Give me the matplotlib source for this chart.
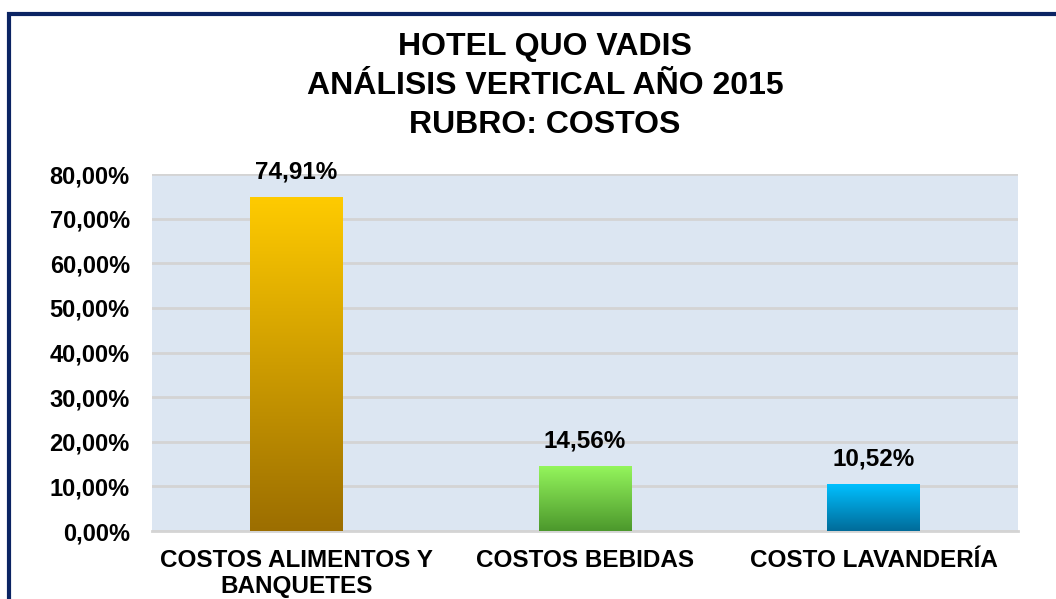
import matplotlib
matplotlib.use("Agg")
import matplotlib.pyplot as plt
import numpy as np
from matplotlib.colors import LinearSegmentedColormap
from matplotlib.patches import Rectangle

categories = ["COSTOS ALIMENTOS Y\nBANQUETES", "COSTOS BEBIDAS", "COSTO LAVANDERÍA"]
values = [74.91, 14.56, 10.52]
yticks = [0, 10, 20, 30, 40, 50, 60, 70, 80]
title = "HOTEL QUO VADIS\nANÁLISIS VERTICAL AÑO 2015\nRUBRO: COSTOS"
gradients = [("#FFCB00", "#9C6E00"), ("#94F55C", "#4C982C"), ("#00C0FF", "#006B99")]

plt.rcParams['font.family'] = ['Liberation Sans', 'DejaVu Sans']
fig = plt.figure(figsize=(10.56, 5.99), dpi=100)
W, H = 1056, 599
ax = fig.add_axes([152 / W, 1 - 531 / H, (1018 - 152) / W, (531 - 174) / H])
ax.set_facecolor("#DCE6F2")

x = np.arange(len(categories))
bars = ax.bar(x, values, width=0.32, color="none", edgecolor="none", zorder=3)
ax.set_xlim(-0.5, len(categories) - 0.5)
ax.set_ylim(0, 80)

for b, (top, bot) in zip(bars, gradients):
    cmap = LinearSegmentedColormap.from_list("g", [bot, top])
    grad = np.linspace(0, 1, 256).reshape(-1, 1)
    bx, by, bw, bh = b.get_x(), b.get_y(), b.get_width(), b.get_height()
    im = ax.imshow(grad, cmap=cmap, origin="lower", aspect="auto",
                   extent=[bx, bx + bw, by, by + bh], zorder=3)
    im.set_clip_path(b)

for xi, v in zip(x, values):
    ax.annotate(f"{v:.2f}".replace(".", ",") + "%", (xi, v), xytext=(0, 18),
                textcoords="offset points", ha="center", va="center",
                fontsize=17.5, fontweight="bold", color="black", zorder=4)

ax.set_yticks(yticks)
ax.set_yticklabels([f"{t:.2f}".replace(".", ",") + "%" for t in yticks])
ax.set_xticks(x)
ax.set_xticklabels(categories, linespacing=1.15)
ax.tick_params(axis="y", length=0, pad=16, labelsize=17)
ax.tick_params(axis="x", length=0, pad=13, labelsize=17.5)
for lab in ax.get_xticklabels() + ax.get_yticklabels():
    lab.set_fontweight("bold")
ax.grid(axis="y", color="#D4D4D4", linewidth=2, zorder=1)
ax.set_axisbelow(True)
for s in ["left", "right", "top"]:
    ax.spines[s].set_visible(False)
ax.spines["bottom"].set_color("#D4D4D4")
ax.spines["bottom"].set_linewidth(2)

fig.text(545 / W, 1 - 86 / H, title, ha="center", va="center", fontsize=23,
         fontweight="bold", linespacing=1.38)

frame = Rectangle((9 / W, -0.1), 1.2, 1 - 14 / H + 0.1, transform=fig.transFigure,
                  fill=False, edgecolor="#0B2463", linewidth=3, zorder=0)
fig.patches.append(frame)

fig.savefig("out.png", dpi=100)
